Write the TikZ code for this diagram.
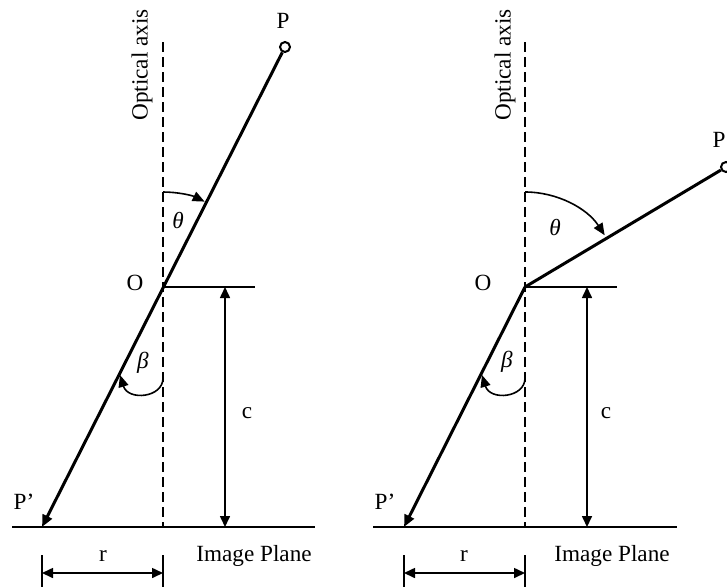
\documentclass[tikz,border=0pt]{standalone}
\usepackage{fontspec}
\setmainfont{Liberation Serif}
\usetikzlibrary{arrows.meta, positioning, calc}

\begin{document}
\begin{tikzpicture}[
  x=0.5pt, y=0.5pt,
  font=\fontsize{11.6}{14}\selectfont,
  ray/.style={line width=1.5pt},
  thinline/.style={line width=0.8pt},
  axisline/.style={line width=0.75pt, dash pattern=on 5pt off 2.5pt},
  tip/.style={-{Triangle[length=6pt, width=5pt]}},
  bothtips/.style={{Triangle[length=5.5pt, width=5pt]}-{Triangle[length=5.5pt, width=5pt]}},
  ring/.style={circle, draw, line width=1pt, fill=white, inner sep=0pt, minimum size=5pt},
  lbl/.style={inner sep=0pt}
]
\useasboundingbox (0,0) rectangle (727,586);

% left panel
\coordinate (O1) at (163,299);
\coordinate (A1) at (163,544);
\coordinate (B1) at (163,59);
\coordinate (Pp1) at (42,59);
\coordinate (H1) at (255,299);
\coordinate (IL1) at (12,59);
\coordinate (IR1) at (315,59);
\coordinate (Ct1) at (225,299);
\coordinate (Cb1) at (225,59);
\coordinate (Rl1) at (42,31);
\coordinate (Rr1) at (163,31);
\coordinate (Rlb1) at (42,-2);
\coordinate (Rrb1) at (163,-2);
\node[ring] (P1) at (285,539) {};
\node[lbl] (p1) at (283,565) {P};
\node[lbl] (o1) at (135,303) {O};
\node[lbl] (pp1) at (24,84) {P’};
\node[lbl] (c1) at (247,173) {c};
\node[lbl] (r1) at (103,30) {r};
\node[lbl] (im1) at (254,30) {Image Plane};
\node[lbl, rotate=90] (ax1) at (142,521) {Optical axis};
\node[lbl] (t1) at (178,366) {\itshape θ};
\node[lbl] (b1) at (143,223) {\itshape β};

\draw[axisline] (A1) -- (B1);
\draw[thinline] (IL1) -- (IR1);
\draw[thinline] (O1) -- (H1);
\draw[thinline, bothtips] (Ct1) -- (Cb1);
\draw[thinline] (Rl1) -- (Rlb1);
\draw[thinline] (Rr1) -- (Rrb1);
\draw[thinline, bothtips] ($(Rl1)+(0,-18)$) -- ($(Rr1)+(0,-18)$);
\draw[ray, tip] (P1) -- (Pp1);
\draw[thinline, tip] ($(O1)+(90:95)$) arc[start angle=90, end angle=64, radius=95];
\draw[thinline, tip] (163,208) .. controls (163,188) and (128,185) .. (120,211);

% right panel
\coordinate (O2) at (525,299);
\coordinate (A2) at (525,544);
\coordinate (B2) at (525,59);
\coordinate (Pp2) at (404,59);
\coordinate (H2) at (617,299);
\coordinate (IL2) at (373,59);
\coordinate (IR2) at (677,59);
\coordinate (Ct2) at (587,299);
\coordinate (Cb2) at (587,59);
\coordinate (Rl2) at (404,31);
\coordinate (Rr2) at (525,31);
\coordinate (Rlb2) at (404,-2);
\coordinate (Rrb2) at (525,-2);
\node[ring] (P2) at (726,419) {};
\node[lbl] (p2) at (719,446) {P};
\node[lbl] (o2) at (483,303) {O};
\node[lbl] (pp2) at (385,84) {P’};
\node[lbl] (c2) at (606,173) {c};
\node[lbl] (r2) at (464,30) {r};
\node[lbl] (im2) at (612,30) {Image Plane};
\node[lbl, rotate=90] (ax2) at (505,521) {Optical axis};
\node[lbl] (t2) at (555,359) {\itshape θ};
\node[lbl] (b2) at (507,224) {\itshape β};

\draw[axisline] (A2) -- (B2);
\draw[thinline] (IL2) -- (IR2);
\draw[thinline] (O2) -- (H2);
\draw[thinline, bothtips] (Ct2) -- (Cb2);
\draw[thinline] (Rl2) -- (Rlb2);
\draw[thinline] (Rr2) -- (Rrb2);
\draw[thinline, bothtips] ($(Rl2)+(0,-18)$) -- ($(Rr2)+(0,-18)$);
\draw[ray] (O2) -- (P2);
\draw[ray, tip] (O2) -- (Pp2);
\draw[thinline, tip] ($(O2)+(90:95)$) arc[start angle=90, end angle=33, radius=95];
\draw[thinline, tip] (525,208) .. controls (525,188) and (490,185) .. (482,211);
\end{tikzpicture}
\end{document}
